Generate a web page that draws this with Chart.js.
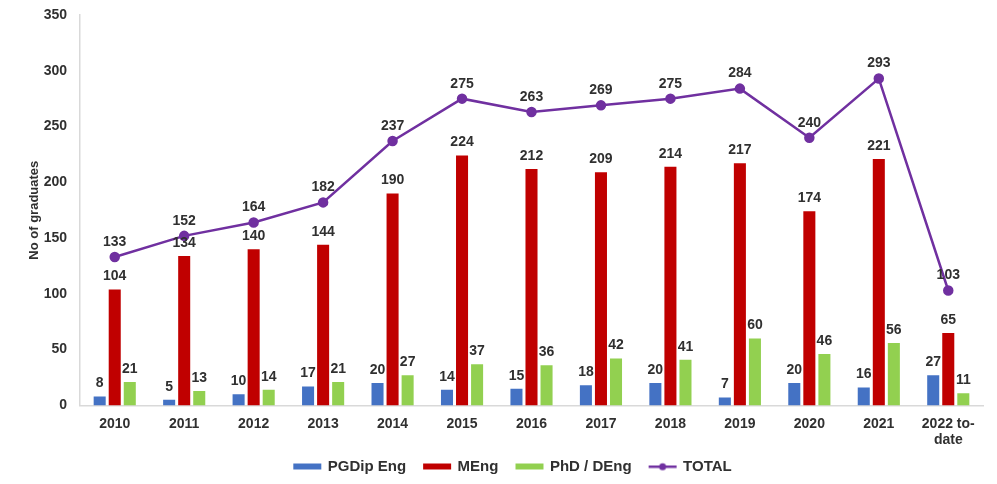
<!DOCTYPE html>
<html>
<head>
<meta charset="utf-8">
<script src="https://cdn.jsdelivr.net/npm/chart.js@4"></script>
<style>
  html, body { margin: 0; padding: 0; background: #fff; }
  #wrap { width: 997px; height: 484px; }
</style>
</head>
<body>
<div id="wrap"><canvas id="chart" width="997" height="484"></canvas></div>
<script>
const years = ["2010", "2011", "2012", "2013", "2014", "2015", "2016", "2017", "2018", "2019", "2020", "2021", ["2022 to-", "date"]];
const pgdip = [8, 5, 10, 17, 20, 14, 15, 18, 20, 7, 20, 16, 27];
const meng = [104, 134, 140, 144, 190, 224, 212, 209, 214, 217, 174, 221, 65];
const phd = [21, 13, 14, 21, 27, 37, 36, 42, 41, 60, 46, 56, 11];
const total = [133, 152, 164, 182, 237, 275, 263, 269, 275, 284, 240, 293, 103];

const FONT = "'Liberation Sans', Arial, sans-serif";
const TEXT = "#303030";

// legend markers: the box is wider than the mark, the blank left part
// gives the gap between legend items
function legendMark(color, isLine) {
  const c = document.createElement("canvas");
  c.width = 50;
  c.height = 10;
  const g = c.getContext("2d");
  g.fillStyle = color;
  if (isLine) {
    g.fillRect(20, 4, 28, 2.5);
    g.beginPath();
    g.arc(34, 5.2, 3.5, 0, Math.PI * 2);
    g.fill();
  } else {
    g.fillRect(20, 2, 28, 6);
  }
  return c;
}

// labels on top of bars and points
const valueLabels = {
  id: "valueLabels",
  afterDatasetsDraw(chart) {
    const ctx = chart.ctx;
    ctx.save();
    ctx.font = "bold 14px " + FONT;
    ctx.fillStyle = TEXT;
    ctx.textAlign = "center";
    ctx.textBaseline = "bottom";
    chart.data.datasets.forEach((ds, i) => {
      const meta = chart.getDatasetMeta(i);
      meta.data.forEach((el, j) => {
        const off = ds.type === "line" ? 8 : 6;
        ctx.fillText(ds.data[j], el.x, el.y - off);
      });
    });
    ctx.restore();
  }
};

new Chart(document.getElementById("chart"), {
  data: {
    labels: years,
    datasets: [
      {
        type: "line",
        label: "TOTAL",
        data: total,
        borderColor: "#7030A0",
        backgroundColor: "#7030A0",
        borderWidth: 2.5,
        pointRadius: 4,
        pointBackgroundColor: "#7030A0",
        pointBorderColor: "#7030A0",
        tension: 0,
        order: 0
      },
      { type: "bar", label: "PGDip Eng", data: pgdip, backgroundColor: "#4472C4", order: 1 },
      { type: "bar", label: "MEng", data: meng, backgroundColor: "#C00000", order: 1 },
      { type: "bar", label: "PhD / DEng", data: phd, backgroundColor: "#92D050", order: 1 }
    ]
  },
  options: {
    responsive: false,
    animation: false,
    layout: { padding: { left: 25, right: 14, top: 15, bottom: 0 } },
    datasets: {
      bar: { categoryPercentage: 0.65, barPercentage: 0.8 }
    },
    plugins: {
      legend: {
        position: "bottom",
        labels: {
          font: { family: FONT, size: 15, weight: "bold" },
          color: TEXT,
          usePointStyle: true,
          pointStyleWidth: 44,
          boxWidth: 44,
          boxHeight: 10,
          padding: 0,
          generateLabels(chart) {
            const items = Chart.defaults.plugins.legend.labels.generateLabels(chart);
            items.forEach(it => {
              const ds = chart.data.datasets[it.datasetIndex];
              it.pointStyle = legendMark(ds.backgroundColor, ds.type === "line");
            });
            return items;
          },
          sort: (a, b) => {
            const order = ["PGDip Eng", "MEng", "PhD / DEng", "TOTAL"];
            return order.indexOf(a.text) - order.indexOf(b.text);
          }
        }
      },
      tooltip: { enabled: false }
    },
    scales: {
      x: {
        grid: { display: false, drawTicks: false },
        border: { color: "#D9D9D9", width: 1.5 },
        ticks: {
          font: { family: FONT, size: 14, weight: "bold" },
          color: TEXT,
          padding: 10,
          maxRotation: 0,
          autoSkip: false
        }
      },
      y: {
        min: 0,
        max: 350,
        afterFit(scale) {
          scale.width = 55;
          scale.paddingTop = 0;
        },
        grid: { display: false, drawTicks: false },
        border: { color: "#D9D9D9", width: 1.5 },
        ticks: {
          stepSize: 50,
          font: { family: FONT, size: 14, weight: "bold" },
          color: TEXT,
          padding: 13
        },
        title: {
          display: true,
          text: "No of graduates",
          font: { family: FONT, size: 13, weight: "bold" },
          color: TEXT,
          padding: { top: 2, bottom: 0 }
        }
      }
    }
  },
  plugins: [valueLabels]
});
</script>
</body>
</html>
